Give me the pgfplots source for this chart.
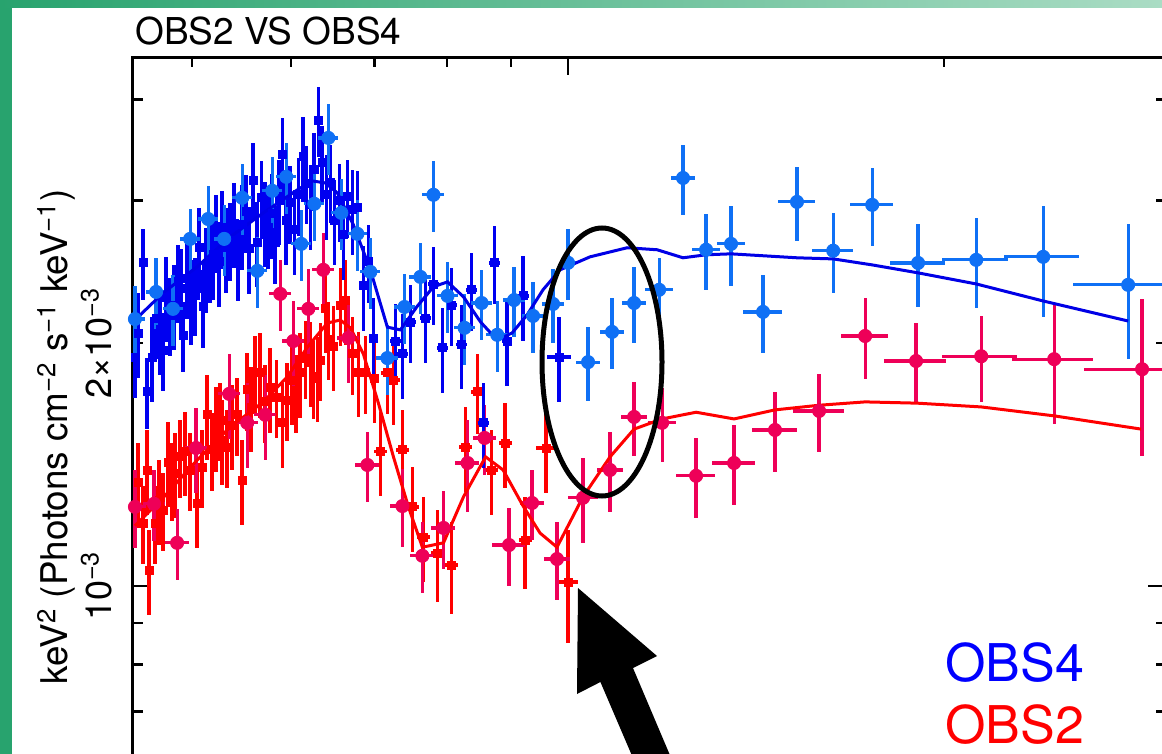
\documentclass[border=0pt]{standalone}
\usepackage{fontspec}
\setmainfont{TeX Gyre Heros}
\usepackage{pgfplots}
\usepackage{pgfplotstable}
\pgfplotsset{compat=1.18}

\definecolor{obsblue}{RGB}{0,0,240}
\definecolor{obslight}{RGB}{15,112,245}
\definecolor{obsred}{RGB}{255,0,0}
\definecolor{obspink}{RGB}{238,0,88}
\definecolor{modblue}{RGB}{0,0,230}
\definecolor{frameL}{RGB}{40,163,110}
\definecolor{frameR}{RGB}{170,220,196}

% OBS4, first instrument (squares)
\pgfplotstableread{
E F dE dF
0.4500 1.921e-3 0.006 0.11
0.4525 2.057e-3 0.006 0.12
0.4567 2.512e-3 0.006 0.10
0.4601 1.739e-3 0.006 0.10
0.4644 1.921e-3 0.006 0.12
0.4679 2.146e-3 0.006 0.11
0.4713 2.075e-3 0.006 0.12
0.4739 1.960e-3 0.006 0.11
0.4766 2.279e-3 0.006 0.12
0.4801 2.165e-3 0.006 0.11
0.4837 2.228e-3 0.006 0.12
0.4873 2.379e-3 0.006 0.11
0.4900 2.332e-3 0.006 0.12
0.4918 2.045e-3 0.006 0.10
0.4955 2.406e-3 0.006 0.11
0.4991 2.259e-3 0.006 0.12
0.5028 2.292e-3 0.006 0.11
0.5066 2.622e-3 0.006 0.12
0.5103 2.216e-3 0.006 0.11
0.5131 2.477e-3 0.006 0.12
0.5169 2.519e-3 0.006 0.11
0.5198 2.570e-3 0.006 0.12
0.5227 2.744e-3 0.006 0.11
0.5256 2.519e-3 0.006 0.12
0.5286 2.775e-3 0.006 0.11
0.5325 2.622e-3 0.006 0.12
0.5364 2.681e-3 0.006 0.11
0.5404 2.814e-3 0.006 0.12
0.5444 2.533e-3 0.006 0.11
0.5484 2.799e-3 0.006 0.12
0.5525 2.905e-3 0.006 0.11
0.5556 2.615e-3 0.006 0.12
0.5597 3.181e-3 0.006 0.11
0.5639 2.666e-3 0.006 0.12
0.5681 3.023e-3 0.006 0.11
0.5722 2.822e-3 0.006 0.12
0.5754 2.775e-3 0.006 0.11
0.5797 2.888e-3 0.006 0.12
0.5829 2.659e-3 0.006 0.11
0.5872 3.005e-3 0.006 0.12
0.5905 3.417e-3 0.006 0.11
0.5948 2.838e-3 0.006 0.12
0.5992 2.980e-3 0.006 0.11
0.6037 2.760e-3 0.006 0.12
0.6082 3.049e-3 0.006 0.11
0.6138 3.398e-3 0.006 0.12
0.6172 3.154e-3 0.006 0.11
0.6218 2.963e-3 0.006 0.12
0.6264 3.275e-3 0.006 0.11
0.6311 3.774e-3 0.006 0.10
0.6357 3.340e-3 0.006 0.11
0.6405 3.049e-3 0.006 0.12
0.6452 3.163e-3 0.006 0.11
0.6500 2.838e-3 0.006 0.12
0.6560 2.997e-3 0.006 0.11
0.6609 2.720e-3 0.006 0.12
0.6658 3.032e-3 0.006 0.11
0.6720 2.922e-3 0.006 0.12
0.6782 2.939e-3 0.006 0.11
0.6857 2.352e-3 0.008 0.12
0.6921 2.519e-3 0.008 0.11
0.6985 2.028e-3 0.008 0.12
0.7274 2.010e-3 0.010 0.11
0.7369 1.938e-3 0.010 0.12
0.7479 2.122e-3 0.010 0.11
0.7689 2.146e-3 0.010 0.12
0.7803 2.365e-3 0.010 0.11
0.7934 1.972e-3 0.010 0.12
0.8067 2.228e-3 0.010 0.11
0.8217 1.990e-3 0.010 0.12
0.8371 2.326e-3 0.010 0.11
0.8558 1.592e-3 0.010 0.12
0.8732 2.512e-3 0.010 0.11
0.8937 2.010e-3 0.010 0.12
0.9205 2.286e-3 0.010 0.12
0.9835 1.921e-3 0.022 0.12
}\obsfourA

% OBS4, second instrument (circles)
\pgfplotstableread{
E F dE dF
0.4500 2.140e-3 0.018 0.10
0.4679 2.312e-3 0.018 0.10
0.4827 2.203e-3 0.018 0.10
0.4982 2.689e-3 0.018 0.09
0.5150 2.846e-3 0.018 0.10
0.5305 2.689e-3 0.018 0.10
0.5484 3.023e-3 0.018 0.10
0.5639 2.455e-3 0.018 0.10
0.5797 3.084e-3 0.018 0.10
0.5948 3.209e-3 0.018 0.10
0.6115 2.651e-3 0.018 0.10
0.6264 2.972e-3 0.018 0.10
0.6428 3.586e-3 0.018 0.10
0.6584 2.896e-3 0.018 0.10
0.6782 2.728e-3 0.018 0.10
0.6946 2.448e-3 0.018 0.10
0.7168 1.915e-3 0.020 0.10
0.7397 2.215e-3 0.020 0.10
0.7618 2.413e-3 0.020 0.10
0.7803 3.049e-3 0.020 0.10
0.8008 2.286e-3 0.020 0.10
0.8263 2.087e-3 0.020 0.10
0.8527 2.240e-3 0.020 0.10
0.8776 2.046e-3 0.020 0.10
0.9053 2.259e-3 0.020 0.10
0.9376 2.159e-3 0.020 0.10
0.9728 2.234e-3 0.020 0.105
1.0000 2.512e-3 0.015 0.10
1.0376 1.893e-3 0.022 0.105
1.0845 2.063e-3 0.022 0.10
1.1295 2.240e-3 0.022 0.108
1.1828 2.326e-3 0.026 0.094
1.2361 3.199e-3 0.022 0.10
1.2898 2.607e-3 0.026 0.108
1.3506 2.651e-3 0.026 0.114
1.4326 2.184e-3 0.036 0.111
1.5252 2.988e-3 0.034 0.105
1.6305 2.600e-3 0.0375 0.114
1.7520 2.963e-3 0.0395 0.111
1.9068 2.511e-3 0.051 0.117
2.1224 2.533e-3 0.061 0.128
2.4012 2.555e-3 0.069 0.157
2.8084 2.359e-3 0.0965 0.19
}\obsfourB

% OBS2, first instrument (squares)
\pgfplotstableread{
E F dE dF
0.4525 1.342e-3 0.006 0.12
0.4567 1.197e-3 0.006 0.11
0.4601 1.392e-3 0.006 0.12
0.4618 1.047e-3 0.006 0.12
0.4670 1.197e-3 0.006 0.11
0.4704 1.278e-3 0.006 0.12
0.4739 1.242e-3 0.006 0.11
0.4784 1.424e-3 0.006 0.12
0.4819 1.353e-3 0.006 0.11
0.4846 1.380e-3 0.006 0.12
0.4891 1.445e-3 0.006 0.11
0.4937 1.467e-3 0.006 0.12
0.4982 1.392e-3 0.006 0.11
0.5047 1.267e-3 0.006 0.12
0.5094 1.404e-3 0.006 0.11
0.5141 1.629e-3 0.006 0.12
0.5188 1.474e-3 0.006 0.11
0.5227 1.573e-3 0.006 0.12
0.5266 1.605e-3 0.006 0.11
0.5286 1.516e-3 0.006 0.12
0.5335 1.486e-3 0.006 0.11
0.5384 1.582e-3 0.006 0.12
0.5434 1.629e-3 0.006 0.11
0.5484 1.353e-3 0.006 0.12
0.5535 1.749e-3 0.006 0.11
0.5576 1.666e-3 0.006 0.12
0.5618 1.836e-3 0.006 0.11
0.5670 1.836e-3 0.006 0.12
0.5722 1.690e-3 0.006 0.11
0.5775 1.759e-3 0.006 0.12
0.5840 1.714e-3 0.006 0.11
0.5905 1.592e-3 0.006 0.12
0.5959 1.699e-3 0.006 0.11
0.6014 1.799e-3 0.006 0.12
0.6059 1.739e-3 0.006 0.11
0.6104 1.836e-3 0.006 0.12
0.6161 1.915e-3 0.006 0.11
0.6218 1.893e-3 0.006 0.12
0.6253 1.809e-3 0.006 0.11
0.6299 1.815e-3 0.006 0.12
0.6334 1.904e-3 0.006 0.11
0.6393 2.209e-3 0.006 0.12
0.6428 2.022e-3 0.006 0.11
0.6488 1.981e-3 0.006 0.12
0.6572 2.228e-3 0.006 0.11
0.6634 2.259e-3 0.006 0.12
0.6720 1.938e-3 0.006 0.11
0.6794 1.841e-3 0.006 0.12
0.6882 1.836e-3 0.006 0.11
0.6998 1.809e-3 0.006 0.12
0.7076 1.467e-3 0.012 0.12
0.7168 1.836e-3 0.012 0.11
0.7248 1.799e-3 0.012 0.12
0.7369 1.474e-3 0.012 0.12
0.7507 1.253e-3 0.012 0.12
0.7661 1.150e-3 0.012 0.12
0.7862 1.099e-3 0.012 0.13
0.8067 1.061e-3 0.012 0.13
0.8279 1.486e-3 0.012 0.12
0.8464 1.739e-3 0.012 0.114
0.8685 1.392e-3 0.012 0.12
0.8904 1.503e-3 0.012 0.12
0.9239 1.140e-3 0.012 0.13
0.9603 1.482e-3 0.018 0.12
1.0000 1.011e-3 0.018 0.16
}\obstwoA

% OBS2, second instrument (circles)
\pgfplotstableread{
E F dE dF
0.4500 1.253e-3 0.020 0.11
0.4661 1.264e-3 0.020 0.10
0.4864 1.131e-3 0.022 0.10
0.5037 1.482e-3 0.020 0.12
0.5354 1.729e-3 0.020 0.12
0.5535 1.592e-3 0.020 0.12
0.5722 1.629e-3 0.020 0.12
0.5883 2.299e-3 0.020 0.10
0.6026 2.010e-3 0.020 0.12
0.6195 2.203e-3 0.020 0.12
0.6369 2.462e-3 0.020 0.11
0.6670 2.028e-3 0.020 0.12
0.6908 1.412e-3 0.022 0.10
0.7369 1.256e-3 0.022 0.11
0.7646 1.090e-3 0.022 0.10
0.7949 1.180e-3 0.022 0.11
0.8309 1.420e-3 0.022 0.13
0.8574 1.525e-3 0.022 0.10
0.8969 1.124e-3 0.030 0.11
0.9358 1.267e-3 0.022 0.10
0.9798 1.080e-3 0.024 0.11
1.0281 1.286e-3 0.028 0.12
1.0805 1.392e-3 0.024 0.114
1.1295 1.619e-3 0.024 0.105
1.1894 1.592e-3 0.026 0.105
1.2662 1.369e-3 0.036 0.114
1.3581 1.420e-3 0.040 0.114
1.4646 1.560e-3 0.041 0.114
1.5887 1.647e-3 0.047 0.111
1.7295 2.039e-3 0.043 0.114
1.8999 1.899e-3 0.057 0.114
2.1420 1.925e-3 0.069 0.122
2.4505 1.909e-3 0.075 0.168
2.8815 1.855e-3 0.102 0.22
}\obstwoB

\begin{document}
\begin{tikzpicture}
\begin{scope}
\clip (0,0) rectangle (581pt,-377pt);
\fill[white] (0,0) rectangle (581pt,-377pt);
\begin{axis}[
  at={(66.5pt,-28.5pt)}, anchor=north west,
  scale only axis, width=516.5pt, height=371.5pt,
  xmode=log, ymode=log,
  xmin=0.4484, xmax=3.0116, ymin=5.435e-4, ymax=4.515e-3,
  axis line style={line width=1.5pt},
  xtick={1}, minor xtick={0.5,0.6,0.7,0.8,0.9,2,3}, xticklabels={},
  ytick={0.001}, yticklabels={10\textsuperscript{−3}},
  minor ytick={0.0006,0.0007,0.0008,0.0009,0.003,0.004},
  extra y ticks={0.002}, extra y tick labels={2×10\textsuperscript{−3}},
  extra y tick style={major tick length=5pt},
  major tick length=9pt, minor tick length=5pt,
  tick style={black, line width=1.3pt},
  yticklabel style={rotate=90, anchor=south, inner sep=0pt, font=\fontsize{18}{20}\selectfont},
  yticklabel shift=10.5pt,
  error bars/error mark=none,
]
\addplot[only marks, mark=square*, mark size=2pt, color=obsred,
  error bars/.cd, x dir=both, x explicit relative, y dir=both, y explicit relative,
  error bar style={line width=1.8pt}]
  table[x=E, y=F, x error=dE, y error=dF] {\obstwoA};
\addplot[only marks, mark=*, mark size=3.3pt, color=obspink,
  error bars/.cd, x dir=both, x explicit relative, y dir=both, y explicit relative,
  error bar style={line width=1.6pt}]
  table[x=E, y=F, x error=dE, y error=dF] {\obstwoB};
\addplot[only marks, mark=square*, mark size=2pt, color=obsblue,
  error bars/.cd, x dir=both, x explicit relative, y dir=both, y explicit relative,
  error bar style={line width=1.8pt}]
  table[x=E, y=F, x error=dE, y error=dF] {\obsfourA};
\addplot[only marks, mark=*, mark size=3.3pt, color=obslight,
  error bars/.cd, x dir=both, x explicit relative, y dir=both, y explicit relative,
  error bar style={line width=1.6pt}]
  table[x=E, y=F, x error=dE, y error=dF] {\obsfourB};
% models
\addplot[no marks, line width=1.5pt, color=obsred] coordinates {
(0.4500,1.187e-3) (0.4739,1.286e-3) (0.5047,1.432e-3) (0.5364,1.573e-3)
(0.5702,1.690e-3) (0.5959,1.815e-3) (0.6184,1.975e-3) (0.6416,2.116e-3)
(0.6572,2.134e-3) (0.6695,2.087e-3) (0.6857,1.938e-3) (0.7050,1.684e-3)
(0.7248,1.445e-3) (0.7451,1.253e-3) (0.7646,1.117e-3) (0.7949,1.131e-3)
(0.8248,1.290e-3) (0.8590,1.445e-3) (0.8872,1.392e-3) (0.9205,1.256e-3)
(0.9497,1.163e-3) (0.9798,1.117e-3) (1.0281,1.290e-3) (1.0805,1.445e-3)
(1.1295,1.564e-3) (1.1894,1.610e-3) (1.2662,1.641e-3) (1.3581,1.610e-3)
(1.4646,1.652e-3) (1.5887,1.674e-3) (1.7295,1.690e-3) (1.9033,1.684e-3)
(2.1420,1.666e-3) (2.4505,1.624e-3) (2.8760,1.564e-3)
};
\addplot[no marks, line width=1.5pt, color=modblue] coordinates {
(0.4500,2.134e-3) (0.4739,2.305e-3) (0.5047,2.484e-3) (0.5364,2.704e-3)
(0.5702,2.896e-3) (0.6070,3.092e-3) (0.6241,3.172e-3) (0.6393,3.154e-3)
(0.6536,3.066e-3) (0.6732,2.799e-3) (0.6946,2.462e-3) (0.7168,2.091e-3)
(0.7342,2.075e-3) (0.7576,2.221e-3) (0.7803,2.346e-3) (0.8008,2.379e-3)
(0.8248,2.279e-3) (0.8511,2.122e-3) (0.8776,2.016e-3) (0.9020,2.057e-3)
(0.9272,2.165e-3) (0.9549,2.326e-3) (0.9853,2.462e-3) (1.0414,2.555e-3)
(1.1151,2.622e-3) (1.1785,2.607e-3) (1.2361,2.548e-3) (1.2898,2.570e-3)
(1.3506,2.577e-3) (1.5252,2.548e-3) (1.6305,2.540e-3) (1.7520,2.497e-3)
(1.9068,2.441e-3) (2.1224,2.365e-3) (2.4012,2.253e-3) (2.8084,2.128e-3)
};
\end{axis}
% annotations
\draw[black, line width=2.5pt] (301pt,-181pt) ellipse [x radius=30pt, y radius=67pt];
\fill[black] (289pt,-294pt) -- (328.5pt,-328pt) -- (316.5pt,-334pt) -- (343pt,-396.5pt)
  -- (327pt,-403.5pt) -- (300.2pt,-341pt) -- (288.5pt,-347pt) -- cycle;
% frame
\fill[frameL] (0,0) rectangle (6pt,-377pt);
\shade[left color=frameL, right color=frameR] (0,0) rectangle (581pt,-4pt);
\end{scope}
\node[anchor=base west, inner sep=0pt, font=\fontsize{18.5}{20}\selectfont] at (67.5pt,-22.5pt) {OBS2 VS OBS4};
\node[rotate=90, anchor=base, inner sep=0pt, font=\fontsize{18.4}{22}\selectfont] at (34pt,-218.5pt)
  {keV\textsuperscript{2} (Photons cm\textsuperscript{−2} s\textsuperscript{−1} keV\textsuperscript{−1})};
\node[anchor=base west, inner sep=0pt, font=\fontsize{26}{30}\selectfont, text=blue] at (472.5pt,-340.5pt) {OBS4};
\node[anchor=base west, inner sep=0pt, font=\fontsize{26}{30}\selectfont, text=red] at (472.5pt,-371.5pt) {OBS2};
\pgfresetboundingbox
\useasboundingbox (0,0) rectangle (581pt,-377pt);
\end{tikzpicture}
\end{document}
